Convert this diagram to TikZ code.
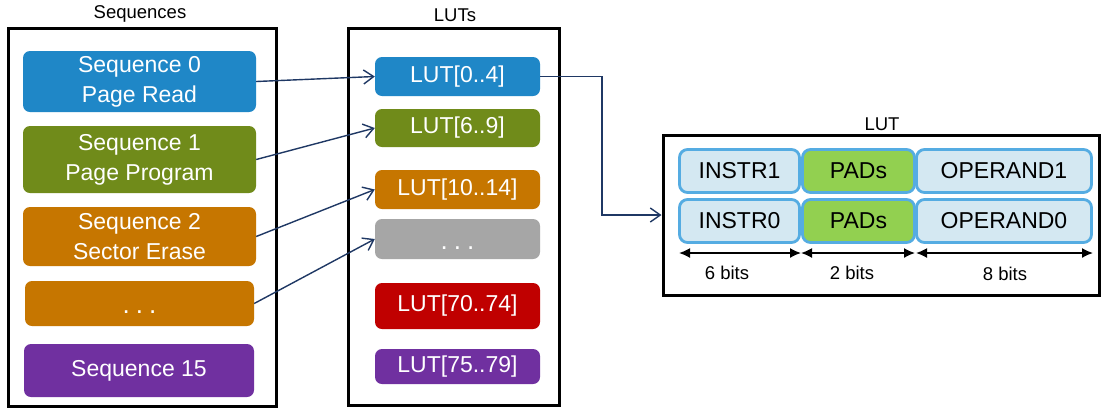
\documentclass[tikz,border=0pt]{standalone}
\usepackage{fontspec}
\setmainfont{Liberation Sans}
\usetikzlibrary{arrows.meta}
\definecolor{cblue}{HTML}{1F87C7}
\definecolor{colive}{HTML}{708B1A}
\definecolor{corange}{HTML}{C67600}
\definecolor{cgrey}{HTML}{A6A6A6}
\definecolor{cred}{HTML}{C00000}
\definecolor{cpurple}{HTML}{7030A0}
\definecolor{cellfill}{HTML}{D4E8F2}
\definecolor{cellline}{HTML}{55ACE2}
\definecolor{cpad}{HTML}{92D050}
\definecolor{navy}{HTML}{1F3864}
\newcommand{\mydots}{\smash{\raisebox{-10pt}{\fontsize{26}{27}\selectfont .\hspace{6pt}.\hspace{6pt}.}}}
\tikzset{
  container/.style={draw=black, line width=3pt, fill=white, inner sep=0pt},
  title/.style={font=\fontsize{18.5}{20}\selectfont, inner sep=0pt},
  colbox/.style={rounded corners=7pt, inner sep=0pt, text=white, align=center,
     font=\fontsize{23}{28}\selectfont},
  lutcell/.style={rounded corners=8pt, draw=cellline, line width=2.8pt, fill=cellfill,
     inner sep=0pt, font=\fontsize{23}{27}\selectfont},
  padcell/.style={lutcell, fill=cpad},
  link/.style={draw=navy, line width=1.4pt, -{Straight Barb[length=10pt,width=14pt,line width=1.4pt]}},
  bitarrow/.style={draw=black, line width=1.6pt, {Latex[length=11pt,width=10pt]}-{Latex[length=11pt,width=10pt]}},
  bitlabel/.style={font=\fontsize{18.5}{20}\selectfont, inner sep=0pt}
}
\begin{document}
\begin{tikzpicture}[x=1pt,y=-1pt]
\useasboundingbox (0,0) rectangle (1102,408);
% containers
\node[container, minimum width=268pt, minimum height=378pt] (seqbox) at (142,217) {};
\node[title] (seqtitle) at (140,14) {Sequences};
\node[container, minimum width=211pt, minimum height=377pt] (lutsbox) at (453.5,216.5) {};
\node[title] (lutstitle) at (455,15) {LUTs};
\node[container, minimum width=436pt, minimum height=160pt] (lutbox) at (881,215) {};
\node[title] (luttitle) at (882,124) {LUT};
% sequences
\node[colbox, fill=cblue, minimum width=233pt, minimum height=61pt] (seq0) at (139.5,81.5) {\raisebox{2pt}{Sequence 0}\\Page Read};
\node[colbox, fill=colive, minimum width=233pt, minimum height=67pt] (seq1) at (139.5,159.5) {\raisebox{2pt}{Sequence 1}\\Page Program};
\node[colbox, fill=corange, minimum width=233pt, minimum height=59pt] (seq2) at (139.5,236.5) {\raisebox{2pt}{Sequence 2}\\Sector Erase};
\node[colbox, fill=corange, minimum width=229pt, minimum height=45pt] (seqdots) at (139.5,303.5) {\mydots};
\node[colbox, fill=cpurple, minimum width=230pt, minimum height=53pt] (seq15) at (139,370.5) {Sequence 15};
% luts
\node[colbox, fill=cblue, minimum width=165pt, minimum height=39pt] (lut0) at (457.5,76.5) {LUT[0..4]};
\node[colbox, fill=colive, minimum width=165pt, minimum height=38pt] (lut6) at (457.5,128) {LUT[6..9]};
\node[colbox, fill=corange, minimum width=165pt, minimum height=39pt] (lut10) at (457.5,189.5) {LUT[10..14]};
\node[colbox, fill=cgrey, minimum width=165pt, minimum height=40pt] (lutdots) at (457.5,239) {\mydots};
\node[colbox, fill=cred, minimum width=165pt, minimum height=46pt] (lut70) at (457.5,306) {LUT[70..74]};
\node[colbox, fill=cpurple, minimum width=165pt, minimum height=35pt] (lut75) at (457.5,366.5) {LUT[75..79]};
% LUT cells
\node[lutcell, minimum width=120pt, minimum height=43pt] (instr1) at (739.5,171) {INSTR1};
\node[padcell, minimum width=112pt, minimum height=43pt] (pad1) at (858.5,171) {PADs};
\node[lutcell, minimum width=175pt, minimum height=43pt] (op1) at (1004,171) {OPERAND1};
\node[lutcell, minimum width=120pt, minimum height=43pt] (instr0) at (739.5,221) {INSTR0};
\node[padcell, minimum width=112pt, minimum height=43pt] (pad0) at (858.5,221) {PADs};
\node[lutcell, minimum width=175pt, minimum height=43pt] (op0) at (1004,221) {OPERAND0};
% bit arrows
\coordinate (b0) at (679,253);
\coordinate (b1) at (801,253);
\coordinate (b2) at (915,253);
\coordinate (b3) at (1093,253);
\draw[bitarrow] (b0) -- (b1);
\draw[bitarrow] (b1) -- (b2);
\draw[bitarrow] ([xshift=1pt]b2) -- (b3);
\node[bitlabel] (bits6) at (727,273) {6 bits};
\node[bitlabel] (bits2) at (852,273) {2 bits};
\node[bitlabel] (bits8) at (1005,274) {8 bits};
% links
\draw[link] (seq0.east) -- (lut0.west);
\draw[link] (seq1.east) -- (lut6.west);
\draw[link] (seq2.east) -- (lut10.west);
\draw[link] (seqdots.east) -- (lutdots.west);
\coordinate (bend) at (602,76.5);
\draw[link] (lut0.east) -- (bend) |- (lutbox.west);
\end{tikzpicture}
\end{document}
